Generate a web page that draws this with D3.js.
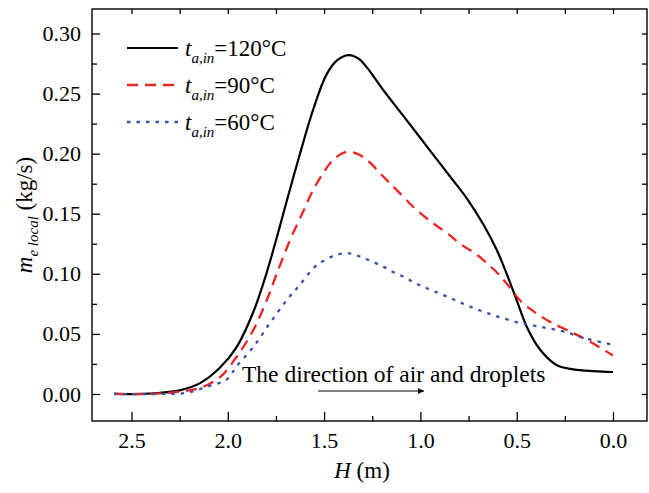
<!DOCTYPE html>
<meta charset="utf-8">
<script src="https://d3js.org/d3.v7.min.js"></script>
<style>
body { margin: 0; background: #fff; }
svg { display: block; }
</style>
<body>
<script>

// H (m), m_e local (kg/s)
var h120 = [2.59, 2.45, 2.35, 2.25, 2.144, 2.04, 1.954, 1.868, 1.80, 1.746, 1.70, 1.625, 1.556, 1.487, 1.43, 1.374, 1.32, 1.279, 1.193, 1.106, 1.019, 0.933, 0.846, 0.760, 0.673, 0.604, 0.552, 0.500, 0.448, 0.379, 0.292, 0.206, 0.10, 0.0];
var m120 = [0.000, 0.000, 0.001, 0.003, 0.009, 0.022, 0.039, 0.068, 0.100, 0.130, 0.157, 0.200, 0.237, 0.266, 0.278, 0.282, 0.279, 0.272, 0.253, 0.235, 0.217, 0.199, 0.181, 0.163, 0.141, 0.120, 0.100, 0.078, 0.056, 0.037, 0.024, 0.0205, 0.019, 0.0183];

var h90 = [2.59, 2.40, 2.25, 2.144, 2.04, 1.954, 1.868, 1.798, 1.746, 1.677, 1.608, 1.556, 1.504, 1.452, 1.383, 1.331, 1.279, 1.193, 1.106, 1.019, 0.933, 0.846, 0.794, 0.708, 0.621, 0.552, 0.483, 0.414, 0.327, 0.223, 0.119, 0.0];
var m90 = [0.000, 0.000, 0.002, 0.005, 0.014, 0.031, 0.053, 0.078, 0.100, 0.128, 0.152, 0.170, 0.184, 0.195, 0.2015, 0.200, 0.195, 0.181, 0.167, 0.153, 0.142, 0.132, 0.125, 0.116, 0.104, 0.092, 0.078, 0.069, 0.060, 0.052, 0.0435, 0.032];

var h60 = [2.59, 2.35, 2.213, 2.11, 2.006, 1.954, 1.868, 1.781, 1.694, 1.625, 1.547, 1.49, 1.431, 1.369, 1.308, 1.248, 1.193, 1.136, 1.08, 1.023, 0.967, 0.907, 0.846, 0.791, 0.731, 0.673, 0.609, 0.483, 0.379, 0.258, 0.137, 0.0];
var m60 = [0.000, 0.000, 0.001, 0.006, 0.012, 0.023, 0.039, 0.059, 0.078, 0.091, 0.106, 0.112, 0.116, 0.117, 0.114, 0.110, 0.106, 0.101, 0.097, 0.092, 0.088, 0.084, 0.080, 0.076, 0.072, 0.0685, 0.065, 0.059, 0.056, 0.052, 0.046, 0.041];

var legendTemps = ["120", "90", "60"];
var xTicks = [2.5, 2.0, 1.5, 1.0, 0.5, 0.0];
var yTicks = [0.00, 0.05, 0.10, 0.15, 0.20, 0.25, 0.30];

var FONT = "'Liberation Serif'";
var W = 649, H = 493;
var L = 92, R = 647, T = 9, B = 421;

var svg = d3.select("body").append("svg")
    .attr("width", W)
    .attr("height", H);

var x = d3.scaleLinear().domain([2.705, -0.1765]).range([L, R]);
var y = d3.scaleLinear().domain([-0.0225, 0.3204]).range([B, T]);

function zip(a, b) { return a.map(function(d, i) { return [d, b[i]]; }); }

var series = [
    { pts: zip(h120, m120), color: "#000", dash: null, w: 2.2 },
    { pts: zip(h90, m90), color: "#ee2424", dash: "11,7", w: 2.3 },
    { pts: zip(h60, m60), color: "#3b52a8", dash: "3.5,6", w: 2.3 }
];

var line = d3.line()
    .x(function(d) { return x(d[0]); })
    .y(function(d) { return y(d[1]); })
    .curve(d3.curveCatmullRom.alpha(0.5));

// minor ticks
var xMinor = d3.range(0.25, 2.75, 0.5);
var yMinor = d3.range(0.025, 0.32, 0.05);

function styleAxis(g) {
    g.select(".domain").remove();
    g.selectAll("line").attr("stroke", "#000").attr("stroke-width", 1.3);
    g.selectAll("text")
        .attr("fill", "#000")
        .attr("font-family", FONT)
        .attr("font-size", 22);
}

svg.append("g")
    .attr("transform", "translate(0," + B + ")")
    .call(d3.axisBottom(x).tickValues(xMinor).tickFormat("").tickSize(-5).tickSizeOuter(0))
    .call(styleAxis);
svg.append("g")
    .attr("transform", "translate(0," + B + ")")
    .call(d3.axisBottom(x).tickValues(xTicks).tickFormat(d3.format(".1f")).tickSize(-9).tickSizeOuter(0).tickPadding(11))
    .call(styleAxis);
svg.append("g")
    .attr("transform", "translate(0," + T + ")")
    .call(d3.axisTop(x).tickValues(xTicks.concat(xMinor)).tickFormat("").tickSize(-5).tickSizeOuter(0))
    .call(styleAxis);

svg.append("g")
    .attr("transform", "translate(" + L + ",0)")
    .call(d3.axisLeft(y).tickValues(yMinor).tickFormat("").tickSize(-5).tickSizeOuter(0))
    .call(styleAxis);
svg.append("g")
    .attr("transform", "translate(" + L + ",0)")
    .call(d3.axisLeft(y).tickValues(yTicks).tickFormat(d3.format(".2f")).tickSize(-8).tickSizeOuter(0).tickPadding(11))
    .call(styleAxis);
svg.append("g")
    .attr("transform", "translate(" + R + ",0)")
    .call(d3.axisRight(y).tickValues(yTicks.concat(yMinor)).tickFormat("").tickSize(-5).tickSizeOuter(0))
    .call(styleAxis);

svg.append("rect")
    .attr("x", L).attr("y", T)
    .attr("width", R - L).attr("height", B - T)
    .attr("fill", "none").attr("stroke", "#000").attr("stroke-width", 1.4);

svg.selectAll(".series")
    .data(series)
    .enter().append("path")
    .attr("class", "series")
    .attr("d", function(d) { return line(d.pts); })
    .attr("fill", "none")
    .attr("stroke", function(d) { return d.color; })
    .attr("stroke-width", function(d) { return d.w; })
    .attr("stroke-dasharray", function(d) { return d.dash; });

// legend
series.forEach(function(s, i) {
    var ly = 48 + i * 37;
    svg.append("line")
        .attr("x1", 127).attr("x2", 178)
        .attr("y1", ly).attr("y2", ly)
        .attr("stroke", s.color)
        .attr("stroke-width", s.w)
        .attr("stroke-dasharray", s.dash);
    var t = svg.append("text")
        .attr("font-family", FONT)
        .attr("x", 185).attr("y", ly + 8)
        .attr("font-size", 23);
    t.append("tspan").attr("font-style", "italic").text("t");
    t.append("tspan").attr("font-style", "italic").attr("font-size", 15)
        .attr("dy", 7).text("a,in");
    t.append("tspan").attr("dy", -7).text("=" + legendTemps[i] + "\u00B0C");
});

// annotation
svg.append("text")
    .attr("font-family", FONT)
    .attr("x", 242).attr("y", 382)
    .attr("font-size", 23.5)
    .text("The direction of air and droplets");

svg.append("defs").append("marker")
    .attr("id", "arr")
    .attr("viewBox", "0 0 10 10")
    .attr("refX", 10).attr("refY", 5)
    .attr("markerWidth", 11).attr("markerHeight", 6)
    .attr("markerUnits", "userSpaceOnUse")
    .attr("orient", "auto")
    .append("path").attr("d", "M0,0L10,5L0,10Z").attr("fill", "#000");

svg.append("line")
    .attr("x1", 318).attr("x2", 424)
    .attr("y1", 391).attr("y2", 391)
    .attr("stroke", "#000").attr("stroke-width", 1.2)
    .attr("marker-end", "url(#arr)");

// axis titles
var xt = svg.append("text")
    .attr("font-family", FONT)
    .attr("x", 362).attr("y", 478)
    .attr("text-anchor", "middle")
    .attr("font-size", 23);
xt.append("tspan").attr("font-style", "italic").text("H");
xt.append("tspan").text(" (m)");

var yt = svg.append("text")
    .attr("font-family", FONT)
    .attr("transform", "translate(32,215) rotate(-90)")
    .attr("text-anchor", "middle")
    .attr("font-size", 23);
yt.append("tspan").attr("font-style", "italic").text("m");
yt.append("tspan").attr("font-style", "italic").attr("font-size", 15)
    .attr("dy", 6).text("e local");
yt.append("tspan").attr("dy", -6).text(" (kg/s)");

</script>
</body>
